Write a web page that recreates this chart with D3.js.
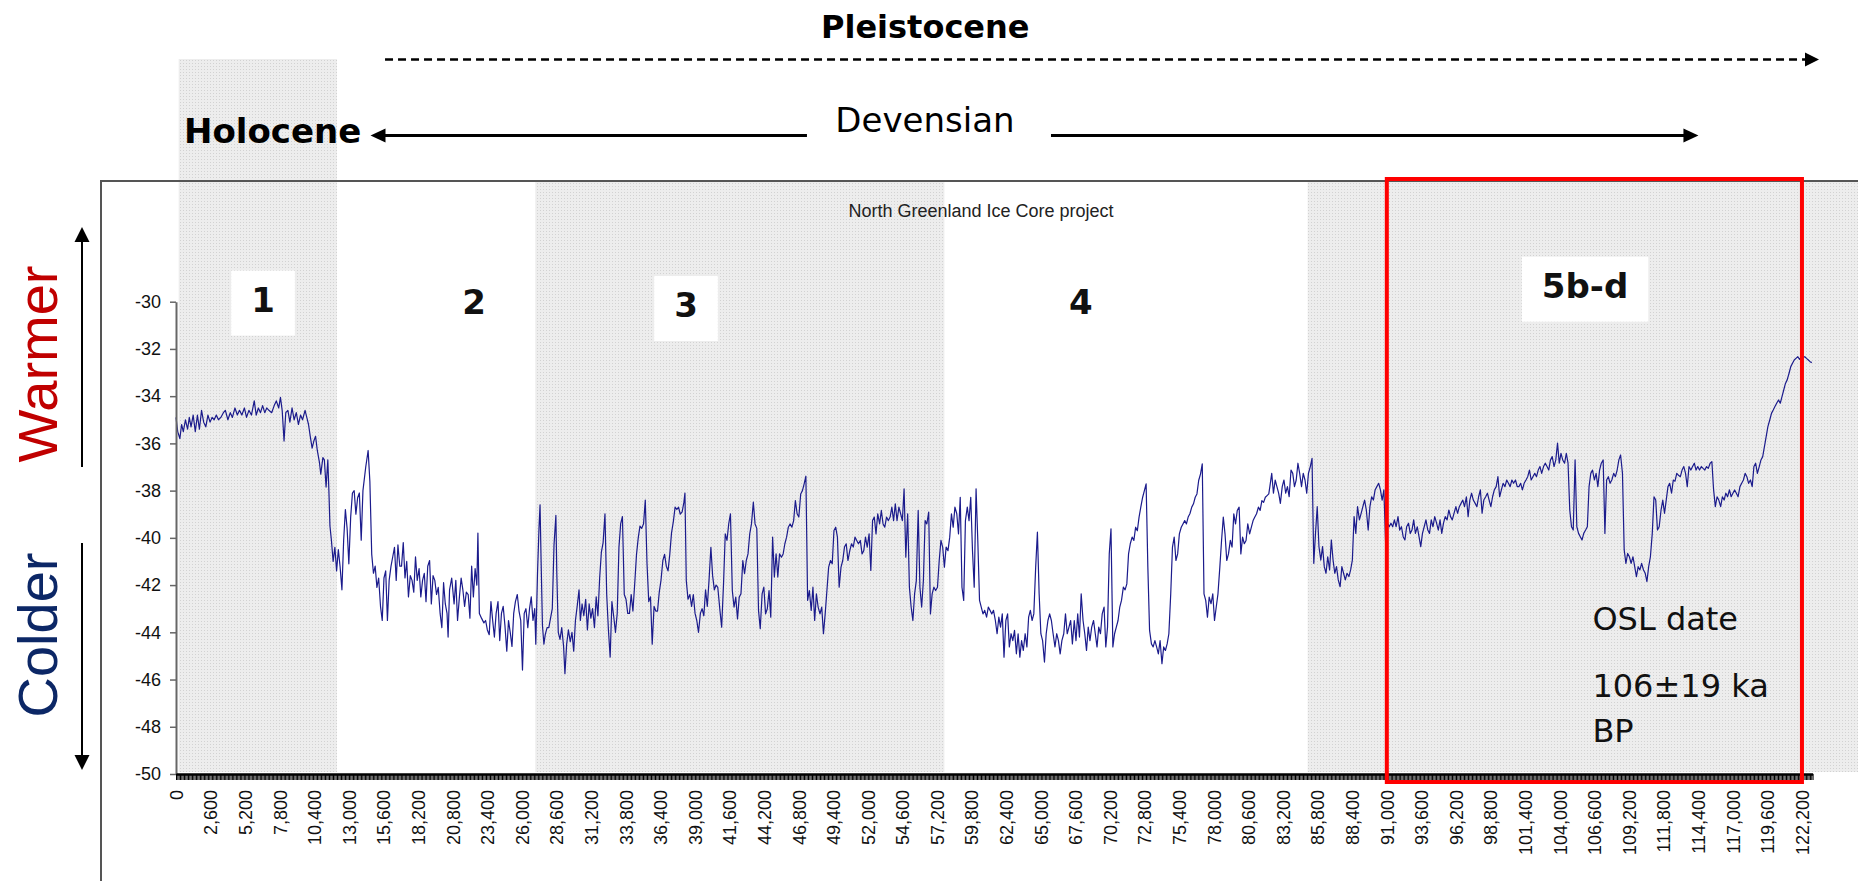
<!DOCTYPE html>
<html>
<head>
<meta charset="utf-8">
<script src="https://cdn.jsdelivr.net/npm/d3@7"></script>
<style>
  body { margin: 0; background: #fff; }
  svg { display: block; }
</style>
</head>
<body>
<script>
// NGRIP d18O record, [years BP, d18O permil]
const ngripEarly = [[0,-34.9],[130,-35.5],[290,-35.8],[420,-35.2],[550,-35.5],[710,-35.0],[870,-35.4],[1000,-34.9],[1130,-35.3],[1290,-34.8],[1450,-35.5],[1610,-34.8],[1760,-35.4],[1920,-34.6],[2080,-35.1],[2240,-35.3],[2400,-34.8],[2560,-35.1],[2710,-34.9],[2870,-35.0],[3030,-34.8],[3190,-35.0],[3370,-34.9],[3560,-34.7],[3710,-34.6],[3900,-35.0],[4080,-34.7],[4240,-34.9],[4430,-34.5],[4610,-34.8],[4770,-34.6],[4950,-34.8],[5140,-34.5],[5300,-34.9],[5480,-34.6],[5670,-34.8],[5880,-34.2],[6030,-34.8],[6190,-34.5],[6350,-34.7],[6510,-34.4],[6670,-34.7],[6820,-34.5],[6980,-34.6],[7190,-34.7],[7380,-34.4],[7540,-34.2],[7720,-34.5],[7850,-34.05],[7980,-34.6],[8120,-35.9],[8250,-34.7],[8410,-34.6],[8560,-35.1],[8720,-34.5],[8880,-35.0],[9040,-34.7],[9200,-35.2],[9360,-34.8],[9510,-35.0],[9700,-34.6],[9830,-34.9],[9960,-35.2],[10090,-35.7],[10230,-36.2],[10360,-35.9],[10490,-35.7],[10620,-36.3],[10780,-36.8],[10880,-37.3],[11040,-36.6],[11150,-36.7],[11280,-37.85],[11410,-36.7],[11490,-38.0],[11570,-39.5],[11680,-40.1],[11810,-41.0],[11940,-40.4],[12070,-41.4],[12200,-40.5],[12330,-41.2],[12470,-42.2],[12600,-40.1],[12730,-38.8],[12860,-39.6],[12990,-41.1],[13130,-39.1],[13260,-38.1],[13390,-38.0],[13520,-39.0],[13650,-38.3],[13780,-38.1],[13920,-40.1],[14050,-38.0],[14260,-37.0],[14440,-36.3],[14570,-37.6],[14710,-40.7],[14840,-41.5],[14970,-41.2],[15100,-42.1],[15230,-41.7],[15370,-42.9],[15500,-43.5],[15630,-41.7],[15760,-41.4],[15890,-43.5],[16020,-41.8],[16160,-41.2],[16290,-40.8],[16420,-40.4],[16550,-41.8],[16680,-40.3],[16820,-41.2],[16950,-41.2],[17080,-40.2],[17210,-41.7],[17340,-41.0],[17470,-42.5],[17610,-41.6],[17740,-41.8],[17870,-42.3],[18000,-40.8],[18130,-41.8],[18270,-41.3],[18400,-42.5],[18530,-41.8],[18660,-41.5],[18790,-42.7],[18920,-41.2],[19060,-40.96],[19190,-42.8],[19320,-41.6],[19450,-41.8],[19580,-42.4],[19710,-42.1],[19850,-43.2],[19980,-43.8],[20110,-41.9],[20240,-42.8],[20370,-43.2],[20450,-44.2],[20560,-42.2],[20720,-41.7],[20900,-42.8],[21030,-41.8],[21160,-43.5],[21300,-42.5],[21430,-41.7],[21560,-42.2],[21690,-42.9],[21820,-42.3],[21960,-42.4],[22090,-43.4],[22220,-41.2],[22350,-42.5],[22480,-41.3],[22610,-42.0],[22690,-39.8],[22800,-43.2],[22960,-43.4],[23140,-43.6],[23270,-43.5],[23400,-43.9],[23540,-44.1],[23670,-42.7],[23800,-43.5],[23930,-44.2],[24060,-43.2],[24200,-42.7],[24330,-44.35],[24460,-43.2],[24590,-42.9],[24720,-43.7],[24860,-44.8],[24990,-43.5],[25120,-44.0],[25250,-44.6],[25380,-43.2],[25510,-42.7],[25650,-42.4],[25780,-43.1],[25910,-43.5],[26040,-45.6],[26170,-43.2],[26300,-43.0],[26440,-43.8],[26570,-43.0],[26700,-42.5],[26830,-43.5],[26960,-43.0],[27040,-44.5],[27170,-41.5],[27280,-39.6],[27360,-38.6],[27440,-41.0],[27540,-43.7],[27650,-44.5],[27750,-44.1],[27890,-43.8],[28020,-43.8],[28150,-43.4],[28280,-43.0],[28410,-40.3],[28550,-39.05],[28620,-41.5],[28730,-44.0],[28860,-44.3],[28990,-43.8],[29130,-44.6],[29230,-45.75],[29360,-44.5],[29490,-43.9],[29630,-44.4],[29760,-44.0],[29890,-44.8],[30020,-43.5],[30150,-42.9],[30290,-42.2],[30390,-43.5],[30520,-42.8],[30650,-43.3],[30790,-42.6],[30920,-43.9],[31050,-42.8],[31180,-43.4],[31310,-43.0],[31450,-43.8],[31580,-42.5],[31710,-43.3],[31840,-41.7],[31970,-40.6],[32100,-40.2],[32240,-38.98],[32370,-42.4],[32500,-43.9],[32630,-45.05],[32760,-42.7],[32890,-43.3],[33030,-44.0],[33160,-43.2],[33290,-40.4],[33420,-39.4],[33550,-39.1],[33690,-42.4],[33820,-42.6],[33950,-43.2],[34080,-43.2],[34210,-42.4],[34340,-43.1],[34480,-41.9],[34610,-40.7],[34740,-40.0],[34870,-39.5],[35000,-39.6],[35140,-39.4],[35270,-38.4],[35400,-41.1],[35530,-42.7],[35660,-42.5],[35790,-44.5],[35930,-42.9],[36060,-43.1],[36190,-43.1],[36320,-42.3],[36450,-41.8],[36590,-40.96],[36720,-40.7],[36850,-41.2],[36980,-41.4],[37110,-40.7],[37240,-39.8],[37380,-39.3],[37510,-38.7],[37640,-38.8],[37770,-38.7],[37900,-39.0],[38040,-38.9],[38170,-38.5],[38250,-38.1],[38350,-41.8],[38480,-42.6],[38620,-42.4],[38750,-42.9],[38880,-42.4],[39010,-43.2],[39140,-43.5],[39270,-44.0],[39410,-43.2],[39540,-43.0],[39670,-43.3],[39800,-42.2],[39930,-42.9],[40060,-41.8],[40200,-40.4],[40330,-41.6],[40460,-42.2],[40590,-42.0],[40720,-42.1]];

const ngripMiddle = [[40880,-43.07],[41010,-43.78],[41150,-41.95],[41280,-39.83],[41410,-40.11],[41540,-39.41],[41670,-38.98],[41810,-42.23],[41940,-42.93],[42070,-42.51],[42200,-43.43],[42330,-42.51],[42460,-42.37],[42600,-40.96],[42730,-41.52],[42860,-40.96],[42990,-40.68],[43120,-39.83],[43250,-39.41],[43390,-38.49],
[43520,-39.41],[43650,-39.6],[43780,-43.07],[43910,-43.85],[44050,-42.37],[44180,-42.09],[44310,-43.22],[44440,-43.0],[44570,-42.23],[44700,-43.36],[44840,-39.97],[44970,-41.66],[45100,-40.68],[45230,-41.66],[45360,-40.68],[45500,-40.82],[45630,-40.68],[45760,-40.25],[45890,-39.97],[46020,-39.55],
[46150,-39.41],[46290,-39.55],[46420,-39.27],[46550,-38.42],[46680,-38.98],[46810,-39.12],[46950,-38.14],[47080,-38.0],[47210,-37.71],[47340,-37.39],[47470,-42.65],[47600,-42.23],[47740,-43.07],[47870,-42.09],[48000,-43.5],[48130,-42.37],[48260,-42.93],[48400,-43.22],[48530,-42.93],[48660,-44.06],
[48790,-43.22],[48920,-42.23],[49050,-41.24],[49190,-40.96],[49320,-41.1],[49450,-39.69],[49580,-39.55],[49710,-39.97],[49840,-42.09],[49980,-41.24],[50110,-40.96],[50240,-40.39],[50370,-40.25],[50500,-40.96],[50640,-40.54],[50770,-40.25],[50900,-40.39],[51030,-39.97],[51160,-40.11],[51290,-40.25],
[51430,-40.11],[51560,-40.68],[51690,-40.54],[51820,-39.97],[51950,-40.39],[52090,-39.83],[52220,-41.38],[52350,-39.27],[52480,-39.12],[52610,-39.83],[52740,-38.98],[52880,-39.41],[53010,-38.84],[53140,-39.41],[53270,-39.55],[53400,-39.12],[53540,-39.27],[53670,-39.12],[53800,-38.70],[53930,-39.27],
[54060,-38.56],[54190,-39.27],[54330,-38.70],[54460,-38.98],[54590,-39.27],[54720,-37.92],[54850,-40.82],[54990,-38.98],[55120,-42.09],[55250,-42.93],[55380,-43.5],[55510,-42.37],[55640,-41.81],[55780,-38.84],[55910,-42.09],[56040,-42.93],[56170,-41.81],[56300,-39.27],[56430,-39.41],[56570,-38.91],
[56700,-43.22],[56830,-42.37],[56960,-42.09],[57090,-42.23],[57230,-42.09],[57360,-40.96],[57490,-40.11],[57620,-40.39],[57750,-41.24],[57880,-40.39],[58020,-40.54],[58150,-39.97],[58280,-38.98],[58410,-39.55],[58540,-38.70],[58680,-38.98],[58810,-39.83],[58940,-38.28],[59070,-42.09],[59200,-42.65],
[59330,-39.27],[59470,-38.70],[59600,-39.27],[59730,-38.28],[59860,-40.54],[59990,-42.09],[60130,-37.92],[60260,-40.11],[60390,-42.65],[60520,-42.93],[60650,-43.22],[60780,-43.07],[60920,-43.36],[61050,-42.93],[61180,-43.07],[61310,-43.22],[61440,-43.07],[61580,-43.5],[61710,-44.06],[61840,-43.36],
[61970,-43.78],[62100,-43.22],[62230,-45.05],[62370,-43.5],[62500,-43.22],[62630,-44.62],[62760,-44.06],[62890,-44.35],[63020,-43.92],[63160,-44.91],[63290,-44.06],[63420,-45.05],[63550,-44.35],[63680,-44.77],[63820,-44.06],[63950,-44.62],[64080,-43.36],[64210,-43.07],[64340,-43.5],[64470,-43.22],
[64610,-41.24],[64740,-39.76],[64870,-42.37],[65000,-44.06],[65130,-44.35],[65270,-45.26],[65400,-44.06],[65530,-43.5],[65660,-43.22],[65790,-43.5],[65920,-44.06],[66060,-44.62],[66190,-44.06],[66320,-44.35],[66450,-44.91],[66580,-44.35],[66720,-44.06],[66850,-43.22],[66980,-44.06],[67110,-43.78],
[67240,-43.5],[67370,-44.49],[67510,-43.5],[67640,-44.35],[67770,-43.22],[67900,-44.2],[68030,-42.37],[68170,-43.5],[68300,-44.06],[68430,-44.77],[68560,-43.78],[68690,-44.35],[68820,-43.78],[68960,-43.5],[69090,-44.06],[69220,-44.62],[69350,-43.78],[69480,-44.06],[69610,-43.22],[69750,-42.93],
[69880,-44.62],[70010,-43.78],[70140,-40.68],[70270,-39.62],[70410,-44.62],[70540,-44.06],[70670,-43.78],[70800,-43.5],[70930,-42.93],[71060,-42.65],[71200,-42.09],[71330,-42.2],[71460,-41.95],[71590,-40.68],[71720,-40.25],[71860,-39.97],[71990,-40.11],[72120,-39.55],[72250,-39.7],[72380,-39.12],
[72510,-38.70],[72650,-38.28],[72780,-38.0],[72910,-37.71],[73040,-41.24],[73170,-43.92],[73310,-44.49],[73440,-44.62],[73570,-44.35],[73700,-44.62],[73830,-44.91],[73960,-44.35],[74100,-45.33],[74230,-44.62],[74360,-44.77],[74490,-44.49],[74620,-44.06],[74760,-42.37],[74890,-40.39],[75020,-39.97],
[75150,-40.96],[75280,-40.68],[75410,-39.83],[75550,-39.55],[75680,-39.41],[75810,-39.27],[75940,-39.41],[76070,-39.12],[76200,-38.98],[76340,-38.70],[76470,-38.56],[76600,-38.28],[76730,-38.14],[76860,-37.57],[77000,-37.29],[77130,-36.87],[77260,-42.37],[77390,-42.65],[77520,-43.36],[77650,-42.51],
[77790,-42.79],[77920,-42.37],[78050,-43.5],[78180,-42.93],[78310,-42.37],[78450,-41.24],[78580,-40.11],[78710,-39.12],[78840,-39.83],[78970,-40.96],[79100,-40.68],[79240,-40.11],[79370,-40.39],[79500,-38.98],[79630,-39.41],[79760,-38.84],[79900,-38.70],[80030,-40.68],[80160,-39.97],[80290,-40.25],
[80420,-40.11],[80550,-39.41],[80690,-39.83],[80820,-39.55],[80950,-39.27],[81080,-39.12],[81210,-38.98],[81350,-38.70],[81480,-38.84],[81610,-38.42],[81740,-38.5],[81870,-38.28],[82000,-38.21],[82130,-38.14]];

const ngripLate = [[82210,-37.83],[82350,-37.27],[82480,-38.11],[82610,-37.55],[82740,-37.83],[82870,-38.11],[83000,-38.54],[83140,-37.83],[83270,-37.55],[83400,-38.11],[83530,-37.83],[83660,-38.26],[83800,-37.13],[83930,-37.27],[84060,-37.83],[84190,-37.55],[84320,-36.84],[84450,-37.27],[84590,-37.83],[84720,-37.27],
[84850,-37.55],[84980,-38.11],[85110,-37.27],[85250,-36.98],[85380,-36.63],[85510,-41.08],[85640,-39.81],[85770,-38.68],[85900,-40.37],[86040,-40.94],[86170,-40.37],[86300,-41.22],[86430,-41.50],[86560,-40.80],[86700,-41.36],[86830,-40.09],[86960,-40.94],[87090,-41.50],[87220,-41.22],[87350,-41.78],
[87490,-42.07],[87620,-41.22],[87750,-41.50],[87880,-41.78],[88010,-41.50],[88150,-41.64],[88280,-41.36],[88410,-40.94],[88540,-39.10],[88670,-39.81],[88800,-38.68],[88940,-39.24],[89070,-38.96],[89200,-38.68],[89330,-38.40],[89460,-38.82],[89600,-39.67],[89730,-38.68],[89860,-38.26],[89990,-38.40],
[90120,-37.97],[90250,-37.83],[90390,-37.69],[90520,-37.97],[90650,-38.40],[90780,-37.97],[90910,-40.23],[91050,-39.38],[91180,-39.53],[91310,-39.38],[91440,-39.53],[91570,-39.24],[91700,-39.53],[91840,-39.10],[91970,-39.67],[92100,-39.53],[92230,-39.95],[92360,-40.09],[92490,-39.53],[92630,-39.38],
[92760,-39.81],[92890,-39.67],[93020,-39.24],[93150,-39.81],[93290,-39.53],[93420,-39.95],[93550,-40.37],[93680,-39.81],[93810,-39.53],[93940,-39.24],[94080,-39.67],[94210,-39.81],[94340,-39.24],[94470,-39.53],[94600,-39.10],[94740,-39.38],[94870,-39.67],[95000,-39.24],[95130,-39.81],[95260,-39.38],
[95390,-39.10],[95530,-39.24],[95660,-38.82],[95790,-39.10],[95920,-39.24],[96050,-38.96],[96190,-38.68],[96320,-38.96],[96450,-38.68],[96580,-38.54],[96710,-38.40],[96840,-38.68],[96980,-38.26],[97110,-39.10],[97240,-38.40],[97370,-38.11],[97500,-38.40],[97640,-38.54],[97770,-38.68],[97900,-38.26],
[98030,-37.97],[98160,-38.96],[98290,-38.40],[98430,-38.26],[98560,-38.11],[98690,-38.40],[98820,-38.68],[98950,-38.26],[99080,-37.97],[99220,-37.83],[99350,-37.41],[99480,-38.26],[99610,-37.97],[99740,-37.69],[99880,-37.83],[100010,-37.55],[100140,-37.69],[100270,-37.83],[100400,-37.55],[100530,-37.69],
[100670,-37.55],[100800,-37.83],[100930,-37.83],[101060,-37.69],[101190,-37.97],[101320,-37.69],[101460,-37.55],[101590,-37.41],[101720,-37.13],[101850,-37.55],[101980,-37.41],[102120,-37.27],[102250,-37.41],[102380,-37.13],[102510,-36.98],[102640,-37.27],[102780,-36.98],[102910,-36.84],[103040,-36.98],[103170,-37.13],
[103300,-36.70],[103430,-36.56],[103570,-36.98],[103700,-36.70],[103830,-35.99],[103960,-36.84],[104090,-36.42],[104220,-36.70],[104360,-36.84],[104490,-36.42],[104620,-36.84],[104750,-38.82],[104880,-39.53],[105010,-39.67],[105150,-36.70],[105280,-39.53],[105410,-39.81],[105540,-39.95],[105670,-40.09],[105800,-39.81],
[105940,-39.67],[106070,-39.53],[106200,-37.83],[106330,-37.27],[106460,-37.13],[106600,-37.55],[106730,-37.27],[106860,-37.83],[106990,-37.13],[107120,-36.84],[107260,-36.70],[107390,-39.81],[107520,-37.55],[107650,-37.41],[107780,-37.69],[107910,-37.55],[108050,-37.27],[108180,-37.41],[108310,-37.13],[108440,-36.70],
[108570,-36.49],[108710,-37.27],[108840,-40.51],[108970,-41.08],[109100,-40.66],[109230,-40.80],[109360,-41.08],[109500,-40.80],[109630,-41.22],[109760,-41.64],[109890,-41.22],[110020,-41.36],[110150,-41.08],[110290,-41.36],[110420,-41.50],[110550,-41.85],[110680,-41.22],[110810,-40.80],[110950,-39.81],[111080,-38.26],
[111210,-38.40],[111340,-39.67],[111470,-39.53],[111610,-38.82],[111740,-38.40],[111870,-38.96],[112000,-38.40],[112130,-37.83],[112260,-37.69],[112400,-38.11],[112530,-37.55],[112660,-37.6],[112790,-37.27],[112920,-37.35],[113060,-37.41],[113190,-37.13],[113320,-36.98],[113450,-37.27],[113580,-37.83],[113710,-36.98],
[113850,-37.13],[113980,-36.98],[114110,-36.84],[114240,-37.13],[114370,-36.98],[114500,-37.13],[114640,-36.98],[114770,-37.06],[114900,-37.13],[115030,-36.98],[115160,-37.06],[115300,-36.84],[115430,-36.77],[115560,-37.97],[115690,-38.68],[115820,-38.26],[115950,-38.40],[116090,-38.68],[116220,-38.26],[116350,-38.40],
[116480,-38.11],[116610,-38.26],[116750,-37.97],[116880,-38.26],[117010,-38.11],[117140,-37.97],[117270,-38.11],[117400,-38.26],[117540,-37.83],[117670,-37.69],[117800,-37.55],[117930,-37.27],[118060,-37.41],[118190,-37.69],[118330,-37.55],[118460,-37.83],[118590,-36.98],[118720,-36.84],[118850,-37.27],[118990,-36.98],
[119120,-36.70],[119250,-36.56],[119380,-36.14],[119510,-35.71],[119640,-35.29],[119780,-35.01],[119910,-34.73],[120040,-34.59],[120170,-34.44],[120300,-34.30],[120440,-34.16],[120570,-34.30],[120700,-34.02],[120830,-33.74],[120960,-33.46],[121090,-33.31],[121230,-33.03],[121360,-32.75],[121490,-32.61],[121620,-32.47],
[121750,-32.40],[121890,-32.33],[122020,-32.44],[122150,-32.33],[122280,-32.36],[122410,-32.33],[122540,-32.40],[122680,-32.47],[122810,-32.54],[122940,-32.58]];

// axis ticks
const yTicks = [-30, -32, -34, -36, -38, -40, -42, -44, -46, -48, -50];
const xTickLabels = [0, 2600, 5200, 7800, 10400, 13000, 15600, 18200, 20800, 23400, 26000, 28600, 31200, 33800, 36400, 39000, 41600, 44200, 46800, 49400, 52000, 54600, 57200, 59800, 62400, 65000, 67600, 70200, 72800, 75400, 78000, 80600, 83200, 85800, 88400, 91000, 93600, 96200, 98800, 101400, 104000, 106600, 109200, 111800, 114400, 117000, 119600, 122200];

// marine isotope stages (years BP)
const shadedStages = [[200, 12100], [27000, 57750], [85050, 127000]];
const stageNames = ["1", "2", "3", "4", "5b-d"];
const stageYears = [6540, 22400, 38330, 68000, 105900];
const stageLevels = [-30.42, -30.54, -30.65, -30.54, -29.83];

// OSL sample window and text
const oslWindow = [91000, 122200];
const oslLines = ["OSL date", "106\u00b119 ka", "BP"];
const oslLevels = [-43.9, -46.73, -48.63];
const oslYear = 106450;

const width = 1858, height = 881;
const frame = {left: 101, top: 181};
const annoFont = "'DejaVu Sans', Verdana, sans-serif";
const axisFont = "'Liberation Sans', Arial, sans-serif";

const x = d3.scaleLinear().domain([0, 123000]).range([176, 1812.6]);
const y = d3.scaleLinear().domain([-50, -30]).range([774, 301.7]);

const svg = d3.select("body").append("svg")
  .attr("width", width)
  .attr("height", height);

// dotted grey fill used on the slide
const pat = svg.append("defs").append("pattern")
  .attr("id", "dots")
  .attr("width", 3).attr("height", 3)
  .attr("patternUnits", "userSpaceOnUse");
pat.append("rect").attr("width", 3).attr("height", 3).attr("fill", "#ededed");
pat.append("rect").attr("width", 1).attr("height", 1).attr("fill", "#d2d2d2");

const bandTops = [59, frame.top, frame.top];
svg.selectAll("rect.band")
  .data(shadedStages)
  .enter()
  .append("rect")
  .attr("class", "band")
  .attr("x", d => x(d[0]))
  .attr("y", (d, i) => bandTops[i])
  .attr("width", d => Math.min(x(d[1]), width) - x(d[0]))
  .attr("height", (d, i) => y(-50) - 2 - bandTops[i])
  .attr("fill", "url(#dots)");

// chart frame (runs off the slide right and bottom)
svg.append("path")
  .attr("d", `M${frame.left},${height}V${frame.top}H${width}`)
  .attr("fill", "none")
  .attr("stroke", "#555")
  .attr("stroke-width", 2);

svg.append("text")
  .attr("x", 981).attr("y", 217)
  .attr("text-anchor", "middle")
  .style("font", `18px ${axisFont}`)
  .attr("fill", "#222")
  .text("North Greenland Ice Core project");

// stage number boxes
const stage = svg.selectAll("g.stage")
  .data(stageNames)
  .enter()
  .append("g")
  .attr("class", "stage");
stage.append("text")
  .attr("x", (d, i) => x(stageYears[i]))
  .attr("y", (d, i) => y(stageLevels[i]))
  .attr("text-anchor", "middle")
  .style("font", `bold 34px ${annoFont}`)
  .attr("fill", "#111")
  .text(d => d);
stage.each(function() {
  const g = d3.select(this);
  const t = g.select("text");
  const b = t.node().getBBox();
  const base = +t.attr("y");
  g.insert("rect", "text")
    .attr("x", b.x - 20)
    .attr("y", base - 41)
    .attr("width", b.width + 40)
    .attr("height", 65)
    .attr("fill", "#fff");
});

// the record
const record = ngripEarly.concat(ngripMiddle, ngripLate);
const line = d3.line()
  .x(d => x(d[0]))
  .y(d => y(d[1]));
svg.append("path")
  .datum(record)
  .attr("d", line)
  .attr("fill", "none")
  .attr("stroke", "#1b1b8c")
  .attr("stroke-width", 1.2)
  .attr("stroke-linejoin", "round");

// y axis (plain hyphen minus, as on the slide)
const yAxis = svg.append("g")
  .attr("transform", "translate(176,0)")
  .call(d3.axisLeft(y).tickValues(yTicks).tickSize(6).tickSizeOuter(0).tickPadding(9)
    .tickFormat(d => String(d)));
yAxis.select(".domain").attr("stroke", "#666").attr("stroke-width", 2);
yAxis.selectAll(".tick line").attr("stroke", "#666").attr("stroke-width", 1.5);
yAxis.selectAll("text").style("font", `18px ${axisFont}`).attr("fill", "#111");

// x axis: one tick per sample makes the solid black band
const xBand = svg.append("g")
  .attr("transform", `translate(0,${y(-50)})`)
  .call(d3.axisBottom(x).tickValues(d3.range(0, 123001, 100)).tickSize(6).tickSizeOuter(0).tickFormat(""));
xBand.select(".domain").attr("stroke", "#000").attr("stroke-width", 2.5);
xBand.selectAll(".tick line").attr("stroke", "#000");

const xLab = svg.append("g")
  .attr("transform", `translate(0,${y(-50)})`)
  .call(d3.axisBottom(x).tickValues(xTickLabels).tickSize(0).tickFormat(d3.format(",")));
xLab.select(".domain").remove();
xLab.selectAll("text")
  .attr("transform", "rotate(-90)")
  .attr("x", -16)
  .attr("y", 0)
  .attr("dy", "0.35em")
  .attr("text-anchor", "end")
  .style("font", `18px ${axisFont}`)
  .attr("fill", "#111");

// red OSL window
svg.append("rect")
  .attr("x", x(oslWindow[0]))
  .attr("y", frame.top - 2)
  .attr("width", x(oslWindow[1]) - x(oslWindow[0]))
  .attr("height", y(-50) + 8 - (frame.top - 2))
  .attr("fill", "none")
  .attr("stroke", "#ff0000")
  .attr("stroke-width", 4);

svg.selectAll("text.osl")
  .data(oslLines)
  .enter()
  .append("text")
  .attr("class", "osl")
  .attr("x", x(oslYear))
  .attr("y", (d, i) => y(oslLevels[i]))
  .style("font", `32px ${annoFont}`)
  .attr("fill", "#111")
  .text(d => d);

// arrow heads
function head(tx, ty, dir, len, half) {
  const pts = {
    right: [[tx, ty], [tx - len, ty - half], [tx - len, ty + half]],
    left: [[tx, ty], [tx + len, ty - half], [tx + len, ty + half]],
    up: [[tx, ty], [tx - half, ty + len], [tx + half, ty + len]],
    down: [[tx, ty], [tx - half, ty - len], [tx + half, ty - len]]
  }[dir];
  svg.append("path")
    .attr("d", "M" + pts.map(p => p.join(",")).join("L") + "Z")
    .attr("fill", "#000");
}

// warmer / colder
svg.append("text")
  .attr("transform", "translate(57,364) rotate(-90)")
  .attr("text-anchor", "middle")
  .style("font", `56px ${axisFont}`)
  .attr("fill", "#c00000")
  .text("Warmer");
svg.append("text")
  .attr("transform", "translate(57,635) rotate(-90)")
  .attr("text-anchor", "middle")
  .style("font", `56px ${axisFont}`)
  .attr("fill", "#0c2766")
  .text("Colder");

svg.append("line").attr("x1", 82).attr("x2", 82).attr("y1", 467).attr("y2", 238)
  .attr("stroke", "#000").attr("stroke-width", 2);
head(82, 227, "up", 15, 7.5);
svg.append("line").attr("x1", 82).attr("x2", 82).attr("y1", 543).attr("y2", 758)
  .attr("stroke", "#000").attr("stroke-width", 2);
head(82, 770, "down", 15, 7.5);

// time periods across the top
svg.append("text")
  .attr("x", x(56310)).attr("y", 38)
  .attr("text-anchor", "middle")
  .style("font", `bold 32px ${annoFont}`)
  .attr("fill", "#000")
  .text("Pleistocene");
svg.append("line")
  .attr("x1", x(15710)).attr("x2", x(123480) - 12)
  .attr("y1", 59.5).attr("y2", 59.5)
  .attr("stroke", "#000").attr("stroke-width", 2.5)
  .attr("stroke-dasharray", "8,5");
head(x(123480), 59.5, "right", 14, 7);

svg.append("text")
  .attr("x", 184).attr("y", 143)
  .style("font", `bold 34px ${annoFont}`)
  .attr("fill", "#000")
  .text("Holocene");

svg.append("text")
  .attr("x", x(56290)).attr("y", 131.5)
  .attr("text-anchor", "middle")
  .style("font", `34px ${annoFont}`)
  .attr("fill", "#000")
  .text("Devensian");
svg.append("line")
  .attr("x1", x(14620) + 12).attr("x2", x(47420))
  .attr("y1", 135.5).attr("y2", 135.5)
  .attr("stroke", "#000").attr("stroke-width", 3);
head(x(14620), 135.5, "left", 15, 7);
svg.append("line")
  .attr("x1", x(65760)).attr("x2", x(114420) - 12)
  .attr("y1", 135.5).attr("y2", 135.5)
  .attr("stroke", "#000").attr("stroke-width", 3);
head(x(114420), 135.5, "right", 15, 7);
</script>
</body>
</html>
